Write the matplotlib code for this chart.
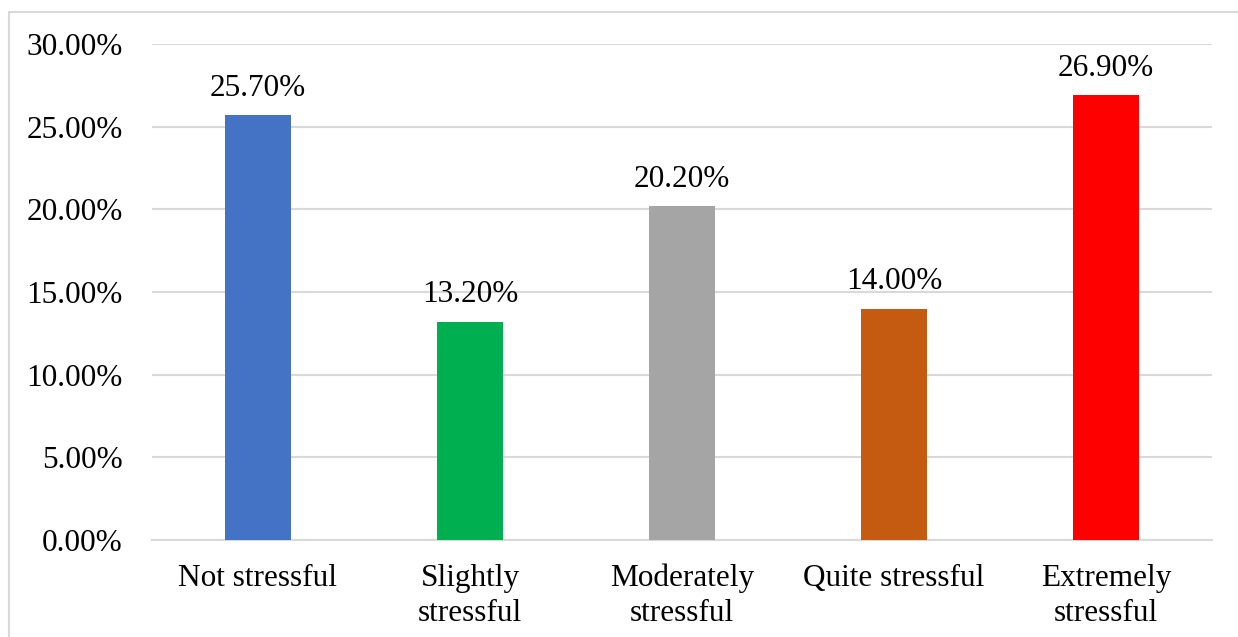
import matplotlib.pyplot as plt
from matplotlib.patches import Rectangle
from matplotlib.ticker import FuncFormatter

categories = ["Not stressful", "Slightly\nstressful", "Moderately\nstressful",
              "Quite stressful", "Extremely\nstressful"]
values = [25.7, 13.2, 20.2, 14.0, 26.9]
bar_colors = ["#4472C4", "#00B050", "#A5A5A5", "#C55A11", "#FF0000"]
yticks = [0, 5, 10, 15, 20, 25, 30]

plt.rcParams['font.family'] = ['Liberation Serif', 'DejaVu Serif']

fig = plt.figure(figsize=(12.38, 6.37), dpi=100)
ax = fig.add_axes([152/1238, 97/637, (1212-152)/1238, (540-44)/637])

xs = list(range(len(categories)))
ax.bar(xs, values, width=0.315, color=bar_colors, zorder=3)
for x, v in zip(xs, values):
    ax.annotate("%.2f%%" % v, (x, v), xytext=(0, 9), textcoords="offset points",
                ha="center", va="bottom", fontsize=22.5)

ax.set_xlim(-0.5, 4.5)
ax.set_ylim(0, 30)
ax.set_yticks(yticks)
ax.yaxis.set_major_formatter(FuncFormatter(lambda v, p: "%.2f%%" % v))
ax.set_xticks(xs)
ax.set_xticklabels(categories, linespacing=1.28)
ax.tick_params(axis="y", length=0, pad=21, labelsize=22.5)
ax.tick_params(axis="x", length=0, pad=17, labelsize=22.5)
ax.grid(axis="y", color="#D9D9D9", linewidth=1.5, zorder=0)
for s in ["top", "right", "left"]:
    ax.spines[s].set_visible(False)
ax.spines["bottom"].set_color("#D9D9D9")
ax.spines["bottom"].set_linewidth(1.5)

# chart area border, cut off on the right and bottom
fig.patches.append(Rectangle((9/1238, -0.1), 1.2, (637-12)/637 + 0.1,
                             transform=fig.transFigure, fill=False,
                             edgecolor="#D9D9D9", linewidth=1.5))

fig.savefig("out.png", dpi=100)
